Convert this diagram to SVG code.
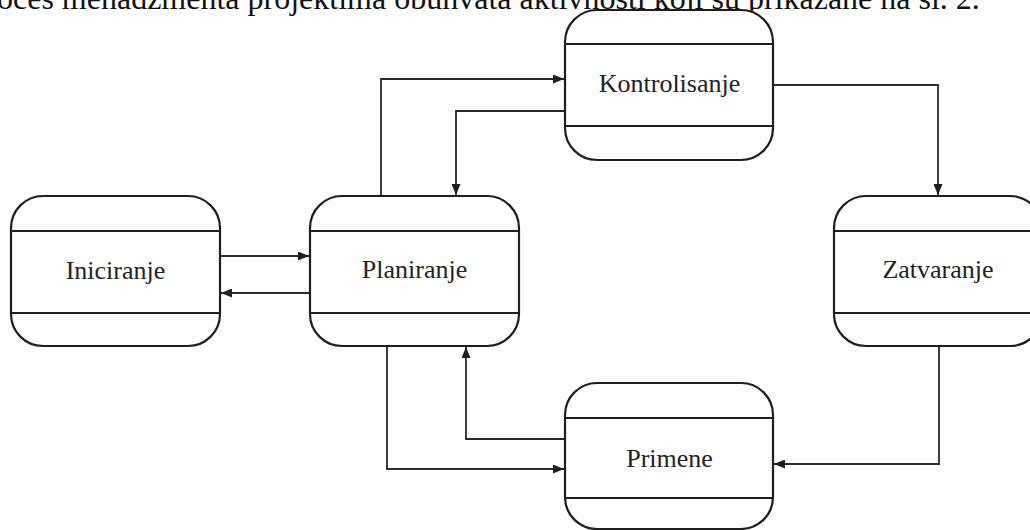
<svg xmlns="http://www.w3.org/2000/svg" width="1030" height="530" viewBox="0 0 1030 530">
<style>
.box{fill:#fff;stroke:#1e1e1e;stroke-width:2.2}
.div{stroke:#1e1e1e;stroke-width:2.2}
.lbl{font-family:"Liberation Serif","Times New Roman",serif;font-size:26px;fill:#222;text-anchor:middle}
.con{fill:none;stroke:#2a2a2a;stroke-width:1.8}
.top{font-family:"Liberation Serif","Times New Roman",serif;font-size:32px;fill:#111}
</style>
<defs>
<marker id="ah" viewBox="0 0 11 9" refX="11" refY="4.5" markerWidth="11" markerHeight="9" markerUnits="userSpaceOnUse" orient="auto">
<path d="M0,0 L11,4.5 L0,9 z" fill="#1e1e1e"/>
</marker>
</defs>
<rect width="1030" height="530" fill="#fff"/>
<text class="top" x="-3" y="9">oces menadžmenta projektima obuhvata aktivnosti koji su prikazane na sl. 2.</text>
<g id="connectors">
<path class="con" d="M220,256 H309" marker-end="url(#ah)"/>
<path class="con" d="M310,293 H221" marker-end="url(#ah)"/>
<path class="con" d="M381,196 V79 H564" marker-end="url(#ah)"/>
<path class="con" d="M565,111 H456 V195" marker-end="url(#ah)"/>
<path class="con" d="M773,85 H938 V195" marker-end="url(#ah)"/>
<path class="con" d="M939,346 V464 H774" marker-end="url(#ah)"/>
<path class="con" d="M387,346 V469 H564" marker-end="url(#ah)"/>
<path class="con" d="M565,439 H466 V347" marker-end="url(#ah)"/>
</g>
<g id="iniciranje">
<rect class="box" x="11" y="196" width="209" height="150" rx="32" ry="32"/>
<line class="div" x1="11" y1="231" x2="220" y2="231"/>
<line class="div" x1="11" y1="313" x2="220" y2="313"/>
<text class="lbl" x="115.5" y="279">Iniciranje</text>
</g>
<g id="planiranje">
<rect class="box" x="310" y="196" width="209" height="150" rx="32" ry="32"/>
<line class="div" x1="310" y1="231" x2="519" y2="231"/>
<line class="div" x1="310" y1="313" x2="519" y2="313"/>
<text class="lbl" x="414.5" y="278">Planiranje</text>
</g>
<g id="kontrolisanje">
<rect class="box" x="565" y="10" width="208" height="150" rx="32" ry="32"/>
<line class="div" x1="565" y1="44" x2="773" y2="44"/>
<line class="div" x1="565" y1="126" x2="773" y2="126"/>
<text class="lbl" x="669.5" y="92">Kontrolisanje</text>
</g>
<g id="zatvaranje">
<rect class="box" x="834" y="196" width="208" height="150" rx="32" ry="32"/>
<line class="div" x1="834" y1="231" x2="1042" y2="231"/>
<line class="div" x1="834" y1="313" x2="1042" y2="313"/>
<text class="lbl" x="938" y="278">Zatvaranje</text>
</g>
<g id="primene">
<rect class="box" x="565" y="383" width="208" height="146" rx="32" ry="32"/>
<line class="div" x1="565" y1="418" x2="773" y2="418"/>
<line class="div" x1="565" y1="498" x2="773" y2="498"/>
<text class="lbl" x="669.5" y="467">Primene</text>
</g>
</svg>
